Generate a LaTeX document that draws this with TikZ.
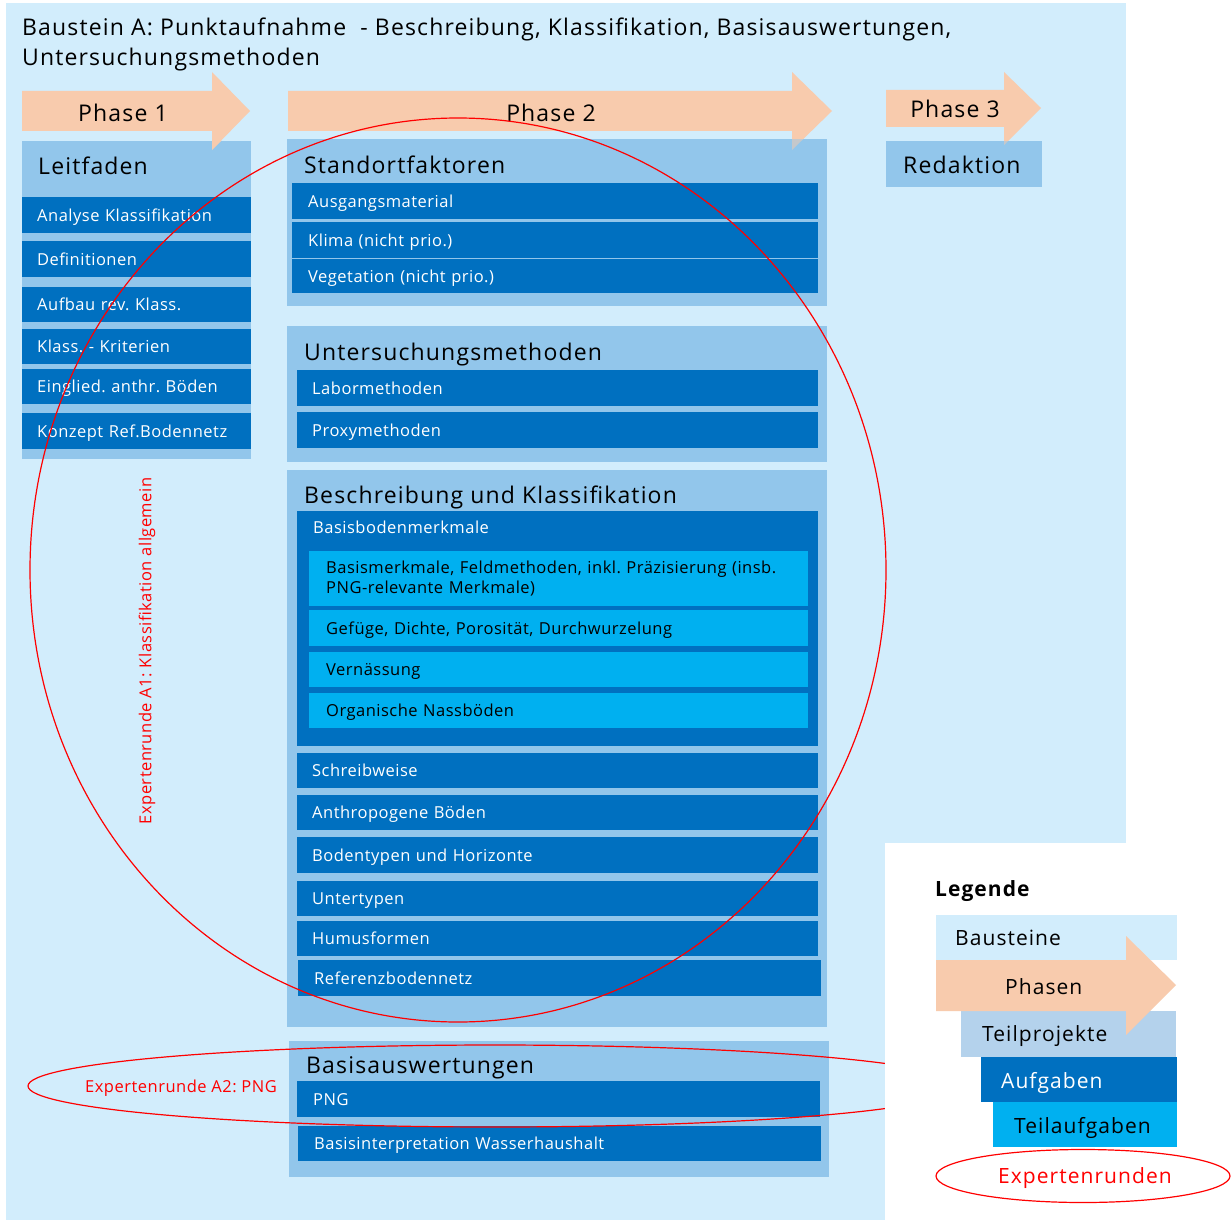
\documentclass[tikz,border=0pt]{standalone}
\usepackage{fontspec}
\setmainfont{Open Sans}
\newfontfamily\bigfam[LetterSpace=5,WordSpace=1.4]{Open Sans}
\newfontfamily\rowfam[LetterSpace=3]{Open Sans}
\newfontfamily\legfam[LetterSpace=5]{Open Sans}
\definecolor{bgblue}{RGB}{210,237,252}
\definecolor{midblue}{RGB}{146,198,235}
\definecolor{darkblue}{RGB}{0,112,192}
\definecolor{cyanrow}{RGB}{0,176,240}
\definecolor{peach}{RGB}{248,203,173}
\definecolor{tpblue}{RGB}{180,210,236}
\definecolor{redline}{RGB}{255,0,0}
\newcommand\bigfont{\bigfam\fontsize{23}{28}\selectfont\frenchspacing}
\newcommand\rowfont{\rowfam\fontsize{16.5}{20}\selectfont\frenchspacing}
\newcommand\legfont{\legfam\fontsize{21}{25}\selectfont\frenchspacing}
\begin{document}
\begin{tikzpicture}[x=1pt,y=-1pt,
  panel/.style={fill=midblue, draw=none, inner sep=0pt, anchor=north west},
  rowbox/.style={fill=darkblue, text=white, draw=none, inner ysep=0pt, inner xsep=15pt,
    anchor=north west, align=left, font=\rowfont, text height=13pt, text depth=1pt},
  cyanbox/.style={rowbox, fill=cyanrow, text=black, inner xsep=17pt},
  boxtitle/.style={anchor=base west, inner sep=0pt, font=\bigfont},
  phasetxt/.style={anchor=base, inner sep=0pt, font=\bigfont},
  redtxt/.style={text=redline, inner sep=0pt, font=\rowfont},
  expert/.style={draw=redline, line width=1.2pt, fill=none},
  legbox/.style={draw=none, inner sep=0pt, anchor=north west},
  legtxt/.style={anchor=base west, inner sep=0pt, font=\legfont}]
\useasboundingbox (0,0) rectangle (1231,1220);
\fill[white] (0,0) rectangle (1231,1220);
% Baustein background
\fill[bgblue] (6,3) rectangle (1126,1220);
\node[anchor=base west, inner sep=0pt, font=\bigfont] (title1) at (22,36)
  {Baustein A: Punktaufnahme \ - Beschreibung, Klassifikation, Basisauswertungen,};
\node[anchor=base west, inner sep=0pt, font=\bigfont] (title2) at (22,66)
  {Untersuchungsmethoden};
% phase arrows
\fill[peach] (22,91) -- (212,91) -- (212,72) -- (250,111) -- (212,150) -- (212,131) -- (22,131) -- cycle;
\fill[peach] (288,91) -- (792,91) -- (792,72) -- (832,111) -- (792,150) -- (792,131) -- (288,131) -- cycle;
\fill[peach] (886,90) -- (1004,90) -- (1004,72) -- (1041,108) -- (1004,145) -- (1004,127) -- (886,127) -- cycle;
% Phase 2 and 3 panels
\node[panel, minimum width=540pt, minimum height=167pt] (stand) at (287,139) {};
\node[panel, minimum width=156pt, minimum height=46pt] (redak) at (886,141) {};
\begin{scope}
  \clip (287,139) rectangle (827,306) (886,141) rectangle (1042,187);
  \fill[peach, opacity=.5] (792,72) -- (832,111) -- (792,150) -- cycle;
  \fill[peach, opacity=.5] (1004,72) -- (1041,108) -- (1004,145) -- cycle;
\end{scope}
% Phase 1 panel (arrow on top)
\node[panel, minimum width=229pt, minimum height=318pt] (leit) at (22,141) {};
\fill[peach] (212,141) -- (212,150) -- (221,141) -- cycle;
\node[phasetxt] (ph1) at (123,122) {Phase 1};
\node[phasetxt] (ph2) at (551,122) {Phase 2};
\node[phasetxt] (ph3) at (955,118) {Phase 3};
\node[boxtitle] (leitT) at (38,175) {Leitfaden};
\node[boxtitle] (redT) at (903,173) {Redaktion};
% Leitfaden rows
\node[rowbox, text width=199pt, minimum height=36pt] (l1) at (22,197) {Analyse Klassifikation};
\node[rowbox, text width=199pt, minimum height=36pt] (l2) at (22,241) {Definitionen};
\node[rowbox, text width=199pt, minimum height=35pt] (l3) at (22,287) {Aufbau rev. Klass.};
\node[rowbox, text width=199pt, minimum height=35pt] (l4) at (22,329) {Klass. - Kriterien};
\node[rowbox, text width=199pt, minimum height=35pt] (l5) at (22,369) {Einglied. anthr. Böden};
\node[rowbox, text width=199pt, minimum height=36pt] (l6) at (22,413) {Konzept Ref.Bodennetz};
% Standortfaktoren
\node[boxtitle] (standT) at (304,173) {Standortfaktoren};
\node[rowbox, text width=494pt, minimum height=36pt, inner xsep=16pt] (s1) at (292,183) {Ausgangsmaterial};
\node[rowbox, text width=494pt, minimum height=36pt, inner xsep=16pt] (s2) at (292,222) {Klima (nicht prio.)};
\node[rowbox, text width=494pt, minimum height=34pt, inner xsep=16pt] (s3) at (292,259) {Vegetation (nicht prio.)};
% Untersuchungsmethoden
\node[panel, minimum width=540pt, minimum height=136pt] (unter) at (287,326) {};
\node[boxtitle] (unterT) at (304,360) {Untersuchungsmethoden};
\node[rowbox, text width=491pt, minimum height=36pt] (u1) at (297,370) {Labormethoden};
\node[rowbox, text width=491pt, minimum height=36pt] (u2) at (297,412) {Proxymethoden};
% Beschreibung und Klassifikation
\node[panel, minimum width=540pt, minimum height=557pt] (besch) at (287,470) {};
\node[boxtitle] (beschT) at (304,503) {Beschreibung und Klassifikation};
\node[panel, fill=darkblue, minimum width=521pt, minimum height=235pt] (bbm) at (297,511) {};
\node[anchor=base west, inner sep=0pt, text=white, font=\rowfont] (bbmT) at (313,533) {Basisbodenmerkmale};
\node[cyanbox, text width=465pt, minimum height=55pt, text height=, text depth=] (c1) at (309,551)
  {Basismerkmale, Feldmethoden, inkl. Präzisierung (insb.\\PNG-relevante Merkmale)};
\node[cyanbox, text width=465pt, minimum height=36pt] (c2) at (309,610) {Gefüge, Dichte, Porosität, Durchwurzelung};
\node[cyanbox, text width=465pt, minimum height=35pt] (c3) at (309,652) {Vernässung};
\node[cyanbox, text width=465pt, minimum height=35pt] (c4) at (309,693) {Organische Nassböden};
\node[rowbox, text width=491pt, minimum height=35pt] (b1) at (297,753) {Schreibweise};
\node[rowbox, text width=491pt, minimum height=35pt] (b2) at (297,795) {Anthropogene Böden};
\node[rowbox, text width=491pt, minimum height=36pt] (b3) at (297,837) {Bodentypen und Horizonte};
\node[rowbox, text width=491pt, minimum height=35pt] (b4) at (297,881) {Untertypen};
\node[rowbox, text width=491pt, minimum height=35pt] (b5) at (297,921) {Humusformen};
\node[rowbox, text width=491pt, minimum height=36pt, inner xsep=16pt] (b6) at (298,960) {Referenzbodennetz};
% Basisauswertungen
\node[panel, minimum width=540pt, minimum height=136pt] (basis) at (289,1041) {};
\node[boxtitle] (basisT) at (306,1073) {Basisauswertungen};
\node[rowbox, text width=491pt, minimum height=36pt, inner xsep=16pt] (a1) at (297,1081) {PNG};
\node[rowbox, text width=491pt, minimum height=35pt, inner xsep=16pt] (a2) at (298,1126) {Basisinterpretation Wasserhaushalt};
% expert rounds
\draw[expert] (458,570) ellipse [x radius=428, y radius=452];
\node[redtxt, rotate=90] (expA1) at (147,651) {Expertenrunde A1: Klassifikation allgemein};
\draw[expert] (495,1086) ellipse [x radius=467, y radius=41];
\node[redtxt, anchor=base] (expA2) at (181,1092) {Expertenrunde A2: PNG};
% legend
\fill[white] (885,843) rectangle (1231,1220);
\node[anchor=base west, inner sep=0pt, font=\legfam\fontsize{21}{24}\selectfont\bfseries] (legT) at (935,896) {Legende};
\node[legbox, fill=bgblue, minimum width=241pt, minimum height=45pt] (lgB) at (936,915) {};
\node[legbox, fill=tpblue, minimum width=215pt, minimum height=46pt] (lgT) at (961,1011) {};
\fill[peach] (936,960) -- (1126,960) -- (1126,936) -- (1176,985) -- (1126,1035) -- (1126,1011) -- (936,1011) -- cycle;
\node[legbox, fill=darkblue, minimum width=196pt, minimum height=45pt] (lgA) at (981,1057) {};
\node[legbox, fill=cyanrow, minimum width=184pt, minimum height=45pt] (lgS) at (993,1102) {};
\node[legtxt] (lgBt) at (955,945) {Bausteine};
\node[legtxt] (lgPt) at (1005,994) {Phasen};
\node[legtxt] (lgTt) at (982,1041) {Teilprojekte};
\node[legtxt, text=white] (lgAt) at (1001,1088) {Aufgaben};
\node[legtxt] (lgSt) at (1014,1133) {Teilaufgaben};
\draw[expert] (1083,1176) ellipse [x radius=147, y radius=26.5];
\node[legtxt, text=redline] (lgEt) at (998,1183) {Expertenrunden};
\end{tikzpicture}
\end{document}
